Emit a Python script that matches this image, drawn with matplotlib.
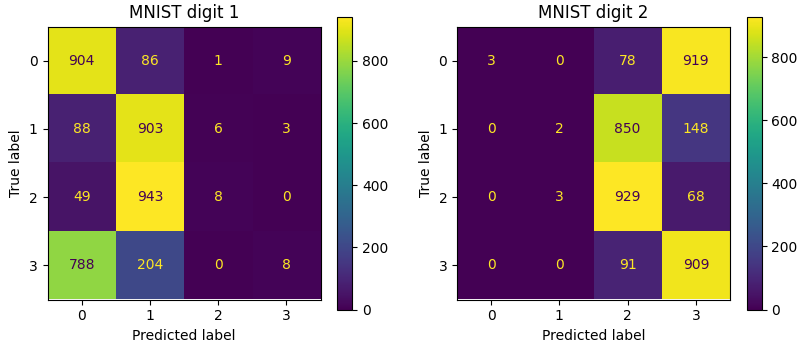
import numpy as np
import matplotlib
matplotlib.use("Agg")
import matplotlib.pyplot as plt

labels = ["0", "1", "2", "3"]
titles = ["MNIST digit 1", "MNIST digit 2"]
cm_digit1 = [[904, 86, 1, 9],
             [88, 903, 6, 3],
             [49, 943, 8, 0],
             [788, 204, 0, 8]]
cm_digit2 = [[3, 0, 78, 919],
             [0, 2, 850, 148],
             [0, 3, 929, 68],
             [0, 0, 91, 909]]

W, H = 800, 345
fig = plt.figure(figsize=(W / 100, H / 100), dpi=100)


def px(x0, y0, x1, y1):
    # pixel box (top-left origin) -> figure fraction rect
    return [x0 / W, (H - y1) / H, (x1 - x0) / W, (y1 - y0) / H]


ax_boxes = [px(47.5, 26.5, 320.5, 299.5), px(457, 26.5, 730, 299.5)]
cb_boxes = [px(337.3, 16.5, 352.3, 309.5), px(746.7, 16.5, 761.7, 309.5)]

cmap = plt.get_cmap("viridis")
for cm, title, ab, cb in zip([cm_digit1, cm_digit2], titles, ax_boxes, cb_boxes):
    cm = np.array(cm)
    ax = fig.add_axes(ab)
    cax = fig.add_axes(cb)
    im = ax.imshow(cm, cmap=cmap, interpolation="nearest", aspect="auto")
    fig.colorbar(im, cax=cax)
    thresh = (cm.max() + cm.min()) / 2.0
    for i in range(cm.shape[0]):
        for j in range(cm.shape[1]):
            color = cmap(0) if cm[i, j] >= thresh else cmap(256)
            ax.text(j, i, str(cm[i, j]), ha="center", va="center", color=color)
    ax.set_xticks(range(len(labels)))
    ax.set_xticklabels(labels)
    ax.set_yticks(range(len(labels)))
    ax.set_yticklabels(labels)
    ax.set_xlabel("Predicted label")
    ax.set_ylabel("True label")
    ax.set_title(title)

fig.savefig("out.png", dpi=100)
